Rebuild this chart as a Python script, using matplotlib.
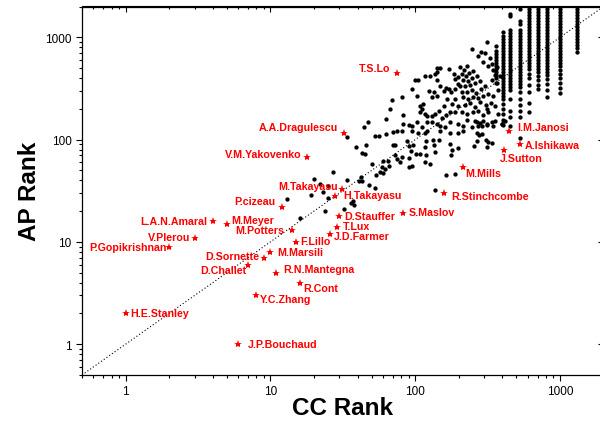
import numpy as np
import matplotlib
matplotlib.use("Agg")
import matplotlib.pyplot as plt

plt.rcParams['font.family'] = ['Liberation Sans', 'DejaVu Sans']

# named authors (red stars): CC rank, AP rank
names = ["T.S.Lo", "A.A.Dragulescu", "V.M.Yakovenko", "M.Takayasu", "H.Takayasu",
         "P.cizeau", "L.A.N.Amaral", "M.Meyer", "V.Plerou", "P.Gopikrishnan",
         "M.Potters", "F.Lillo", "J.D.Farmer", "T.Lux", "D.Stauffer", "S.Maslov",
         "R.Stinchcombe", "M.Marsili", "D.Sornette", "D.Challet", "R.N.Mantegna",
         "R.Cont", "Y.C.Zhang", "H.E.Stanley", "J.P.Bouchaud", "I.M.Janosi",
         "A.Ishikawa", "J.Sutton", "M.Mills"]
star_cc = [75, 32, 18, 31, 28, 12, 4, 5, 3, 2, 14, 15, 26, 29, 30, 83,
           158, 10, 9, 7, 11, 16, 8, 1, 6, 445, 530, 413, 213]
star_ap = [450, 115, 67, 33, 28, 22, 16, 15, 11, 9, 13, 10, 12, 14, 18, 19,
           30, 8, 7, 6, 5, 4, 3, 2, 1, 120, 90, 80, 54]

# other authors (black dots), scattered part
dot_cc = [27, 20, 22, 23, 19, 25, 13, 24, 16, 25, 32, 36, 37, 38, 42, 41, 43, 48, 53, 34,
          34, 39, 43, 45, 46, 53, 56, 63, 70, 75, 81, 70, 73, 95, 104, 117, 121, 149, 174, 196,
          88, 91, 96, 94, 101, 119, 132, 145, 117, 134, 108, 119, 137, 174, 179, 196, 73, 75, 79, 81,
          60, 65, 50, 59, 62, 66, 57, 60, 54, 91, 90, 95, 117, 127, 163, 136, 187,
          69, 81, 67, 63, 47, 44, 83, 95, 100, 105, 117, 127, 137, 141, 149, 141, 142,
          103, 108, 114, 111, 125, 130, 134, 142, 149, 158, 163, 170, 176, 170, 184, 199, 188, 196, 188,
          108, 116, 120, 130, 137, 147, 153, 163, 174, 188, 83, 90, 95, 103, 111, 120, 130, 141, 149,
          165, 179, 188, 199, 157, 174, 199, 161,
          215, 215, 266, 273, 288, 293, 312, 338, 356, 396, 417, 266, 277, 288, 308, 320, 338, 255,
          176, 266, 313,
          204, 218, 229, 210, 224, 237, 252, 215, 233, 248, 266, 204, 221, 239, 259, 281,
          210, 227, 246, 263, 284, 304, 215, 233, 252, 273, 296, 320, 221, 239, 259, 281, 308,
          210, 229, 252, 273, 296, 320, 227, 259, 281, 312, 246,
          246, 273, 284, 304, 312, 329, 296, 320, 338, 347, 365, 356, 338, 369, 385, 375,
          347, 332, 315, 356, 375, 396, 347]
dot_ap = [48, 41, 37, 31, 29, 27, 26, 20, 17, 35, 21, 24, 25, 23, 43, 39, 39, 36, 34, 40,
          106, 84, 74, 72, 89, 108, 108, 113, 119, 122, 122, 89, 89, 122, 116, 116, 122, 122, 116, 116,
          97, 87, 89, 78, 72, 97, 100, 100, 84, 89, 72, 71, 75, 91, 80, 83, 70, 64, 60, 67,
          62, 62, 58, 54, 52, 55, 48, 47, 45, 66, 54, 55, 60, 58, 45, 32, 46,
          246, 259, 199, 159, 148, 132, 174, 313, 385, 385, 422, 422, 439, 499, 505, 456, 385,
          265, 215, 223, 199, 301, 259, 294, 265, 332, 301, 322, 313, 294, 491, 439, 407, 392, 350, 313,
          185, 178, 171, 171, 178, 192, 162, 174, 185, 185, 142, 139, 137, 148, 132, 148, 148, 142, 135,
          249, 223, 249, 215, 215, 148, 142, 132,
          137, 122, 148, 135, 137, 153, 142, 148, 153, 142, 153, 116, 111, 113, 100, 95, 93, 86,
          70, 96, 85,
          509, 483, 528, 439, 422, 448, 472, 385, 372, 398, 416, 337, 332, 344, 358, 377,
          294, 290, 308, 286, 313, 332, 259, 249, 263, 253, 269, 279, 218, 226, 207, 232, 218,
          185, 178, 188, 192, 174, 185, 157, 152, 145, 139, 132,
          770, 653, 714, 699, 896, 624, 571, 528, 549, 483, 509, 429, 385, 358, 416, 308,
          269, 228, 199, 212, 178, 142, 137]

# tied CC ranks at the top end: one CC rank, many AP ranks
col_cc = [360, 405, 450, 530, 610, 700, 810, 1000, 1320]
col_ap = [
    [830, 736, 688, 643, 601, 561, 525, 490, 458, 428, 400, 360],
    [1130, 1032, 964, 901, 843, 787, 736, 688, 643, 601, 561, 525, 490, 458, 428, 400,
     374, 350, 327, 305, 285, 267, 249, 225, 200, 178, 155, 140],
    [1700, 1620, 1181, 1104, 1032, 964, 901, 843, 787, 736, 688, 643, 601, 561, 525, 490,
     458, 428, 400, 374, 350, 327, 305, 249, 190, 166, 136],
    [1897, 1447, 1353, 1181, 1104, 1032, 964, 901, 843, 787, 736, 688, 643, 601, 561, 525,
     490, 458, 428, 400, 374, 350, 327, 290, 250, 218, 190, 166, 103],
    [1897, 1773, 1657, 1549, 1447, 1353, 1264, 1181, 1104, 1032, 964, 901, 843, 787, 736,
     688, 643, 601, 561, 525, 490, 440, 400, 340, 290, 230, 186],
    [1897, 1773, 1657, 1549, 1447, 1353, 1264, 1181, 1104, 1032, 964, 901, 843, 787, 736,
     688, 643, 601, 561, 525, 490, 458, 420, 380, 345, 313],
    [1897, 1773, 1657, 1549, 1447, 1353, 1264, 1181, 1104, 1032, 964, 901, 843, 787, 736,
     688, 643, 601, 561, 525, 490, 458, 428, 390, 350, 305, 260],
    [1897, 1773, 1657, 1549, 1447, 1353, 1264, 1181, 1104, 1032, 964, 901, 843, 787, 736,
     688, 643, 601, 561, 525, 480, 440, 400, 360, 320, 285],
    [1897, 1773, 1657, 1549, 1447, 1353, 1264, 1181, 1104, 1032, 964, 901, 843, 787, 720],
]

tick_vals = [1, 10, 100, 1000]
tick_labels = ["1", "10", "100", "1000"]

# label offsets (points) and alignment for each star label
label_pos = {
    "T.S.Lo": (-5, 3.6, "right"), "A.A.Dragulescu": (-4, 4.5, "right"),
    "V.M.Yakovenko": (-4, 2.4, "right"), "M.Takayasu": (-2.5, 2, "right"),
    "H.Takayasu": (5.8, 0.7, "left"), "P.cizeau": (-4.8, 4.3, "right"),
    "L.A.N.Amaral": (-4, 0.2, "right"), "M.Meyer": (3.2, 2.6, "left"),
    "V.Plerou": (-3.1, 0.7, "right"), "P.Gopikrishnan": (-2, 0, "right"),
    "M.Potters": (-5, 0, "right"), "F.Lillo": (3.1, 0.4, "left"),
    "J.D.Farmer": (2.7, -1.7, "left"), "T.Lux": (3.9, 0.7, "left"),
    "D.Stauffer": (3.4, -0.3, "left"), "S.Maslov": (3.6, 1.2, "left"),
    "R.Stinchcombe": (5, -2, "left"), "M.Marsili": (5, 0, "left"),
    "D.Sornette": (-3.2, 1, "right"), "D.Challet": (-1, -3.8, "right"),
    "R.N.Mantegna": (4.8, 2.7, "left"), "R.Cont": (2.2, -3.6, "left"),
    "Y.C.Zhang": (2.4, -2.9, "left"), "H.E.Stanley": (3.1, 0.2, "left"),
    "J.P.Bouchaud": (7.2, 0.5, "left"), "I.M.Janosi": (6, 3.1, "left"),
    "A.Ishikawa": (3.6, -0.5, "left"), "J.Sutton": (-3.1, -6.2, "left"),
    "M.Mills": (1.7, -4.3, "left"),
}

fig = plt.figure(figsize=(6, 4.31), dpi=100)
ax = fig.add_axes([82 / 600, 1 - 376 / 431, 521.6 / 600, 368.5 / 431])
ax.set_xscale("log")
ax.set_yscale("log")
ax.set_xlim(0.5, 2000)
ax.set_ylim(0.5, 2000)

# y = x reference
ax.plot([0.5, 2000], [0.5, 2000], color="black", linestyle=(0, (1, 2)), linewidth=0.8, zorder=1)

all_cc = list(dot_cc)
all_ap = list(dot_ap)
for c, aps in zip(col_cc, col_ap):
    all_cc += [c] * len(aps)
    all_ap += aps
ax.plot(all_cc, all_ap, "o", color="black", markersize=3.1, markeredgewidth=0, zorder=2)

ax.plot(star_cc, star_ap, "*", color="red", markersize=6, markeredgewidth=0, zorder=3)
for n, c, a in zip(names, star_cc, star_ap):
    dx, dy, ha = label_pos[n]
    ax.annotate(n, (c, a), xytext=(dx, dy), textcoords="offset points",
                ha=ha, va="center", color="red", fontsize=7.7, fontweight="bold")

ax.set_xticks(tick_vals)
ax.set_xticklabels(tick_labels)
ax.set_yticks(tick_vals)
ax.set_yticklabels(tick_labels)
ax.tick_params(which="major", direction="out", length=4, width=0.8, labelsize=8.5, pad=3.5)
ax.tick_params(which="minor", direction="out", length=2.4, width=0.8)
ax.minorticks_on()

# inward ticks on top and right
top = ax.secondary_xaxis("top")
top.set_xticks(tick_vals)
top.tick_params(which="both", direction="in", labeltop=False)
top.tick_params(which="major", length=4, width=0.8)
top.tick_params(which="minor", length=2.4, width=0.8)
right = ax.secondary_yaxis("right")
right.set_yticks(tick_vals)
right.tick_params(which="both", direction="in", labelright=False)
right.tick_params(which="major", length=4, width=0.8)
right.tick_params(which="minor", length=2.4, width=0.8)
for s in ax.spines.values():
    s.set_linewidth(0.9)

ax.set_xlabel("CC Rank", fontsize=17.5, fontweight="bold")
ax.set_ylabel("AP Rank", fontsize=17.5, fontweight="bold")
ax.xaxis.set_label_coords(0.5, -0.089)
ax.xaxis.label.set_va("center")
ax.yaxis.set_label_coords(-0.0997, 0.5)
ax.yaxis.label.set_va("center")

fig.savefig("out.png", dpi=100)
